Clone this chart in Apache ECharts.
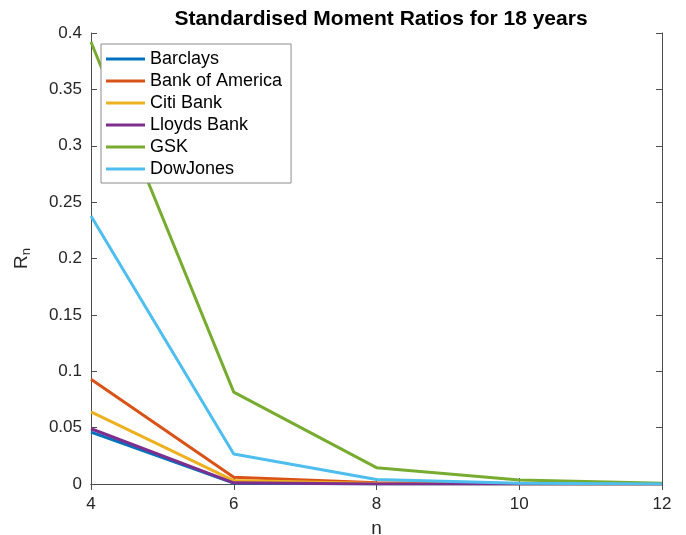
<!DOCTYPE html>
<html><head><meta charset="utf-8">
<script src="https://cdn.jsdelivr.net/npm/echarts@6/dist/echarts.min.js"></script>
<style>html,body{margin:0;padding:0;background:#fff}#c{width:686px;height:535px}</style>
</head><body><div id="c"></div>
<script>
const nValues = [4, 6, 8, 10, 12];
const barclays = [0.046, 0.0008, 0.0001, 0.00002, 0.000005];
const bankOfAmerica = [0.093, 0.006, 0.001, 0.0002, 0.00005];
const citiBank = [0.064, 0.003, 0.0004, 0.0001, 0.00002];
const lloydsBank = [0.049, 0.001, 0.0001, 0.00002, 0.000005];
const gsk = [0.392, 0.0815, 0.0145, 0.0035, 0.0006];
const dowJones = [0.2377, 0.0266, 0.004, 0.0006, 0.0001];
const seriesNames = ['Barclays', 'Bank of America', 'Citi Bank', 'Lloyds Bank', 'GSK', 'DowJones'];
const seriesData = [barclays, bankOfAmerica, citiBank, lloydsBank, gsk, dowJones];
const colors = ['#0072BD', '#D95319', '#EDB120', '#7E2F8E', '#77AC30', '#4DBEEE'];

const font = 'Helvetica, Arial, "Liberation Sans", sans-serif';
const chart = echarts.init(document.getElementById('c'));
const axisLine = {show: true, lineStyle: {color: '#4d4d4d', width: 1}};
const tick = {show: true, inside: true, length: 6, lineStyle: {color: '#4d4d4d'}};
chart.setOption({
  animation: false,
  color: colors,
  title: {text: 'Standardised Moment Ratios for 18 years', left: 376, textAlign: 'center', top: 4,
    textStyle: {fontFamily: font, fontSize: 21, fontWeight: 'bold', color: '#000'}},
  grid: {left: 91, right: 24, top: 33, bottom: 51, containLabel: false, outerBoundsMode: 'none'},
  legend: {
    orient: 'vertical', left: 101, top: 44, data: seriesNames,
    icon: 'rect', itemWidth: 39, itemHeight: 3, itemGap: 2,
    padding: [5, 9, 4, 5],
    borderColor: '#8c8c8c', borderWidth: 1, backgroundColor: '#fff',
    textStyle: {fontFamily: font, fontSize: 18, color: '#000', lineHeight: 20}
  },
  xAxis: [{
    type: 'value', min: 4, max: 12, interval: 2, position: 'bottom',
    name: 'n', nameLocation: 'middle', nameGap: 35,
    nameTextStyle: {fontFamily: font, fontSize: 19, color: '#262626'},
    axisLine: axisLine, axisTick: tick, splitLine: {show: false},
    axisLabel: {fontFamily: font, fontSize: 17, color: '#262626', margin: 12}
  }, {
    type: 'value', min: 4, max: 12, interval: 2, position: 'top',
    axisLine: axisLine, axisTick: tick, splitLine: {show: false}, axisLabel: {show: false}
  }],
  yAxis: [{
    type: 'value', min: 0, max: 0.4, interval: 0.05, position: 'left',
    name: '{a|R}{b|n}', nameLocation: 'middle', nameGap: 58,
    nameTextStyle: {rich: {
      a: {fontFamily: font, fontSize: 19, color: '#262626'},
      b: {fontFamily: font, fontSize: 13, color: '#262626', verticalAlign: 'bottom', padding: [10, 0, 0, 0]}
    }},
    axisLine: axisLine, axisTick: tick, splitLine: {show: false},
    axisLabel: {fontFamily: font, fontSize: 17, color: '#262626', margin: 9,
      formatter: v => String(parseFloat(v.toFixed(3)))}
  }, {
    type: 'value', min: 0, max: 0.4, interval: 0.05, position: 'right',
    axisLine: axisLine, axisTick: tick, splitLine: {show: false}, axisLabel: {show: false}
  }],
  series: seriesNames.map((name, i) => ({
    name: name, type: 'line', showSymbol: false, symbol: 'none',
    lineStyle: {width: 3, color: colors[i]},
    itemStyle: {color: colors[i]},
    data: nValues.map((n, j) => [n, seriesData[i][j]])
  }))
});
</script></body></html>
